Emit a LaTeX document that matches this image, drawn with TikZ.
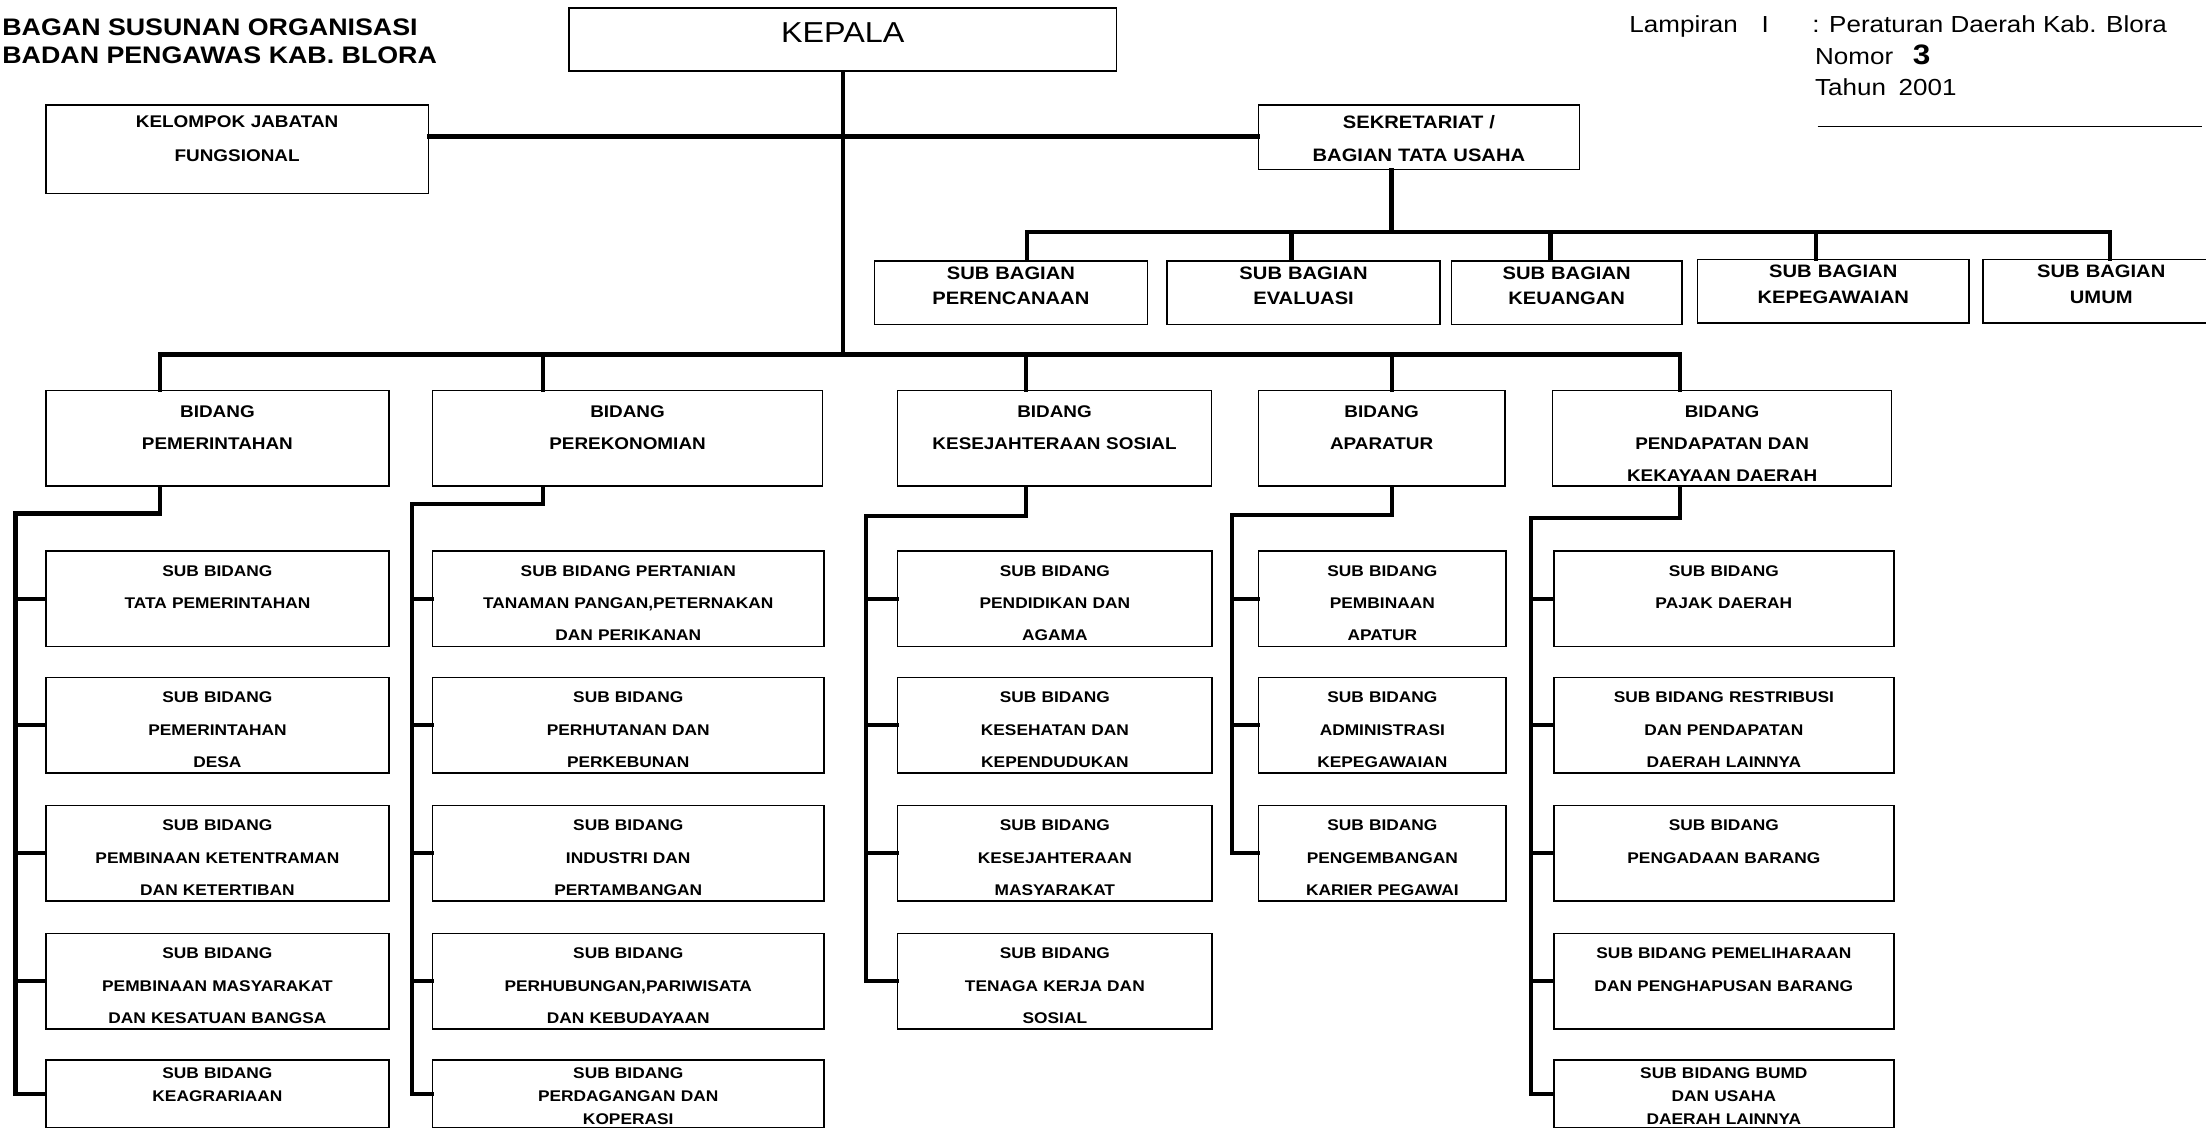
\documentclass[tikz,border=0pt]{standalone}
\usepackage{fontspec}
\setmainfont[FakeStretch=1.12]{Liberation Sans}

\begin{document}
\begin{tikzpicture}[x=1pt,y=-1pt,
    garis/.style={line width=3pt, line cap=rect},
    kotak/.style={draw, line width=1.1pt, inner sep=0pt, anchor=north west, align=center},
    bidang/.style={kotak, font=\fontsize{12}{23}\selectfont\bfseries, text height=19pt, text depth=49pt},
    subbid/.style={kotak, font=\fontsize{11}{23}\selectfont\bfseries, text height=18pt, text depth=50pt},
    subakhir/.style={kotak, font=\fontsize{11}{16.5}\selectfont\bfseries, text height=13pt, text depth=35pt},
    subbag/.style={kotak, font=\fontsize{12.8}{18}\selectfont\bfseries, text height=13pt, text depth=32pt},
    teks/.style={anchor=base west, inner sep=0pt, font=\fontsize{16.5}{18}\selectfont}]
    \path[fill=white, use as bounding box] (0,0) rectangle (1568,802);

    % kepala surat
    \node[teks, font=\fontsize{17}{20}\selectfont\bfseries] (judul1) at (1.5,25) {BAGAN SUSUNAN ORGANISASI};
    \node[teks, font=\fontsize{17}{20}\selectfont\bfseries] (judul2) at (1.5,45) {BADAN PENGAWAS KAB. BLORA};
    \node[teks] (lampiran) at (1158,23) {Lampiran\hspace{17pt}I};
    \node[teks] (perda) at (1288,23) {: Peraturan Daerah Kab. Blora};
    \node[teks] (nomor) at (1290,46) {Nomor\hspace{14pt}{\fontsize{20}{20}\selectfont\bfseries 3}};
    \node[teks] (tahun) at (1290,68) {Tahun\hspace{9pt}2001};
    \draw[line width=1pt] (1292,90) -- (1565,90);

    % pimpinan dan sekretariat
    \node[kotak, text width=389pt, text height=25pt, text depth=20pt, font=\fontsize{20.5}{22}\selectfont] (kepala) at (404,5) {KEPALA};
    \node[kotak, font=\fontsize{12}{24}\selectfont\bfseries, text width=272pt, text height=16pt, text depth=47pt] (fungsional) at (32,74) {KELOMPOK JABATAN\\FUNGSIONAL};
    \node[kotak, font=\fontsize{12.8}{23}\selectfont\bfseries, text width=228pt, text height=17pt, text depth=29pt] (sekretariat) at (894,74) {SEKRETARIAT /\\BAGIAN TATA USAHA};

    \node[subbag, text width=194pt] (sb1) at (621,185) {SUB BAGIAN\\PERENCANAAN};
    \node[subbag, text width=194pt] (sb2) at (829,185) {SUB BAGIAN\\EVALUASI};
    \node[subbag, text width=164pt] (sb3) at (1031,185) {SUB BAGIAN\\KEUANGAN};
    \node[subbag, text width=193pt] (sb4) at (1206,184) {SUB BAGIAN\\KEPEGAWAIAN};
    \node[subbag, text width=168pt] (sb5) at (1409,184) {SUB BAGIAN\\UMUM};

    % bidang
    \node[bidang, text width=244pt] (b1) at (32,277) {BIDANG\\PEMERINTAHAN};
    \node[bidang, text width=277pt] (b2) at (307,277) {BIDANG\\PEREKONOMIAN};
    \node[bidang, text width=223pt] (b3) at (637.5,277) {BIDANG\\KESEJAHTERAAN SOSIAL};
    \node[bidang, text width=175pt] (b4) at (894,277) {BIDANG\\APARATUR};
    \node[bidang, text width=241pt] (b5) at (1103,277) {BIDANG\\PENDAPATAN DAN\\KEKAYAAN DAERAH};

    % sub bidang
    \node[subbid, text width=244pt] (s11) at (32,391) {SUB BIDANG\\TATA PEMERINTAHAN};
    \node[subbid, text width=244pt] (s12) at (32,481) {SUB BIDANG\\PEMERINTAHAN\\DESA};
    \node[subbid, text width=244pt] (s13) at (32,572) {SUB BIDANG\\PEMBINAAN KETENTRAMAN\\DAN KETERTIBAN};
    \node[subbid, text width=244pt] (s14) at (32,663) {SUB BIDANG\\PEMBINAAN MASYARAKAT\\DAN KESATUAN BANGSA};
    \node[subakhir, text width=244pt] (s15) at (32,753) {SUB BIDANG\\KEAGRARIAAN};

    \node[subbid, text width=278pt] (s21) at (307,391) {SUB BIDANG PERTANIAN\\TANAMAN PANGAN,PETERNAKAN\\DAN PERIKANAN};
    \node[subbid, text width=278pt] (s22) at (307,481) {SUB BIDANG\\PERHUTANAN DAN\\PERKEBUNAN};
    \node[subbid, text width=278pt] (s23) at (307,572) {SUB BIDANG\\INDUSTRI DAN\\PERTAMBANGAN};
    \node[subbid, text width=278pt] (s24) at (307,663) {SUB BIDANG\\PERHUBUNGAN,PARIWISATA\\DAN KEBUDAYAAN};
    \node[subakhir, text width=278pt] (s25) at (307,753) {SUB BIDANG\\PERDAGANGAN DAN\\KOPERASI};

    \node[subbid, text width=223.5pt] (s31) at (637.5,391) {SUB BIDANG\\PENDIDIKAN DAN\\AGAMA};
    \node[subbid, text width=223.5pt] (s32) at (637.5,481) {SUB BIDANG\\KESEHATAN DAN\\KEPENDUDUKAN};
    \node[subbid, text width=223.5pt] (s33) at (637.5,572) {SUB BIDANG\\KESEJAHTERAAN\\MASYARAKAT};
    \node[subbid, text width=223.5pt] (s34) at (637.5,663) {SUB BIDANG\\TENAGA KERJA DAN\\SOSIAL};

    \node[subbid, text width=176pt] (s41) at (894,391) {SUB BIDANG\\PEMBINAAN\\APATUR};
    \node[subbid, text width=176pt] (s42) at (894,481) {SUB BIDANG\\ADMINISTRASI\\KEPEGAWAIAN};
    \node[subbid, text width=176pt] (s43) at (894,572) {SUB BIDANG\\PENGEMBANGAN\\KARIER PEGAWAI};

    \node[subbid, text width=241.5pt] (s51) at (1104,391) {SUB BIDANG\\PAJAK DAERAH};
    \node[subbid, text width=241.5pt] (s52) at (1104,481) {SUB BIDANG RESTRIBUSI\\DAN PENDAPATAN\\DAERAH LAINNYA};
    \node[subbid, text width=241.5pt] (s53) at (1104,572) {SUB BIDANG\\PENGADAAN BARANG};
    \node[subbid, text width=241.5pt] (s54) at (1104,663) {SUB BIDANG PEMELIHARAAN\\DAN PENGHAPUSAN BARANG};
    \node[subakhir, text width=241.5pt] (s55) at (1104,753) {SUB BIDANG BUMD\\DAN USAHA\\DAERAH LAINNYA};

    % garis komando
    \coordinate (hz) at (598,97);
    \coordinate (sbT) at (989,165);
    \draw[garis] (fungsional.east |- hz) -- (sekretariat.west |- hz);
    \draw[garis] (sbT |- sekretariat.south) -- (sbT);
    \foreach \n/\x in {1/730,2/918,3/1102,4/1291,5/1500}{
        \coordinate (u\n) at (\x,165);
        \draw[garis] (u\n) -- (u\n |- sb\n.north);
    }
    \draw[garis] (u1) -- (u5);

    \foreach \n/\x in {1/114,2/386,3/729,4/989.5,5/1194}{
        \coordinate (d\n) at (\x,252);
        \draw[garis] (d\n) -- (d\n |- b\n.north);
    }
    \draw[garis] (d1) -- (d5);
    \draw[garis] (kepala.south) -- (kepala.south |- d1);

    \coordinate (sp1) at (11,365);
    \coordinate (sp2) at (293,358);
    \coordinate (sp3) at (615.5,367);
    \coordinate (sp4) at (875.5,366);
    \coordinate (sp5) at (1088,368);
    \draw[garis] (d1 |- b1.south) |- (sp1) |- (s15.west);
    \draw[garis] (d2 |- b2.south) |- (sp2) |- (s25.west);
    \draw[garis] (d3 |- b3.south) |- (sp3) |- (s34.west);
    \draw[garis] (d4 |- b4.south) |- (sp4) |- (s43.west);
    \draw[garis] (d5 |- b5.south) |- (sp5) |- (s55.west);
    \foreach \k in {1,...,4}{
        \draw[garis] (s1\k.west) -- (s1\k.west -| sp1);
        \draw[garis] (s2\k.west) -- (s2\k.west -| sp2);
        \draw[garis] (s5\k.west) -- (s5\k.west -| sp5);
    }
    \foreach \k in {1,...,3}
        \draw[garis] (s3\k.west) -- (s3\k.west -| sp3);
    \foreach \k in {1,2}
        \draw[garis] (s4\k.west) -- (s4\k.west -| sp4);
\end{tikzpicture}
\end{document}
